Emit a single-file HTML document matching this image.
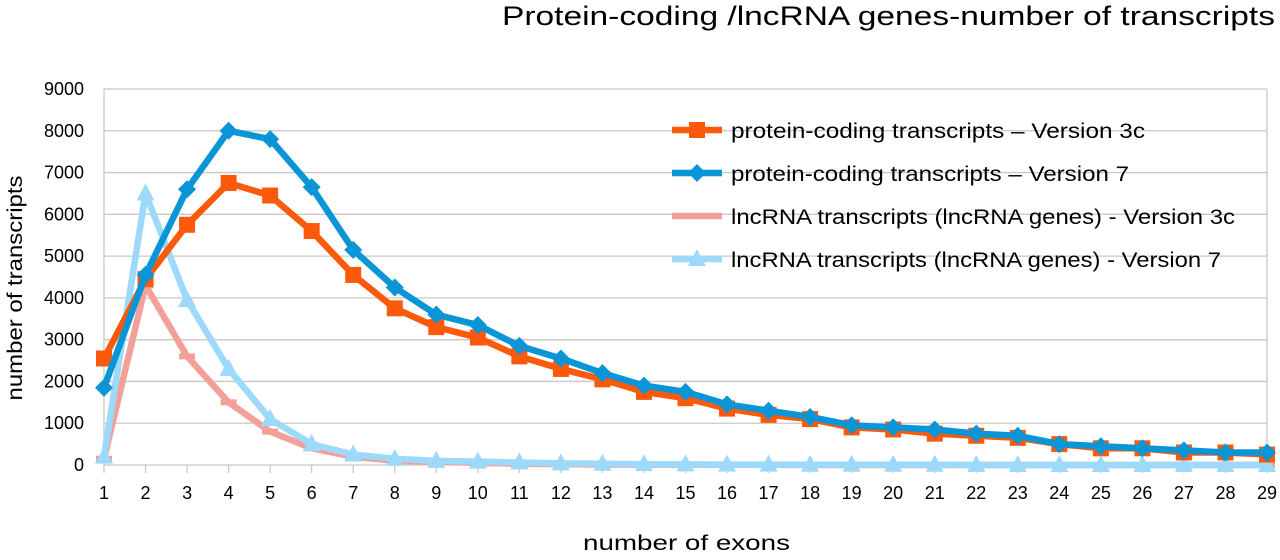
<!DOCTYPE html>
<html><head><meta charset="utf-8"><style>
body{margin:0;background:#fff;width:1280px;height:555px;overflow:hidden;font-family:"Liberation Sans",sans-serif}
text{font-family:"Liberation Sans",sans-serif;fill:#000}
</style></head><body>
<svg id="chart" width="1280" height="555" viewBox="0 0 1280 555" xmlns="http://www.w3.org/2000/svg">
<text x="502" y="25" font-size="27" textLength="773" lengthAdjust="spacingAndGlyphs">Protein-coding /lncRNA genes-number of transcripts</text>
<text transform="translate(22,288) rotate(-90)" font-size="21" text-anchor="middle" textLength="225" lengthAdjust="spacingAndGlyphs">number of transcripts</text>
<text x="583" y="550" font-size="21" textLength="207" lengthAdjust="spacingAndGlyphs">number of exons</text>
<g id="grid"></g><g id="series"></g><g id="legend"></g>
</svg>
<script>
const categories=[1,2,3,4,5,6,7,8,9,10,11,12,13,14,15,16,17,18,19,20,21,22,23,24,25,26,27,28,29];
const yTicks=[0,1000,2000,3000,4000,5000,6000,7000,8000,9000];
const pc3c=[2550,4450,5750,6750,6450,5600,4550,3750,3300,3050,2600,2300,2050,1750,1600,1350,1200,1100,900,850,750,700,650,500,400,400,300,300,250];
const pc7=[1850,4550,6600,8000,7800,6650,5150,4250,3600,3350,2850,2550,2200,1900,1750,1450,1300,1150,950,900,850,750,700,500,450,400,350,300,300];
const lnc3c=[150,4300,2600,1500,800,400,200,100,80,50,30,20,10,10,5,5,5,0,0,0,0,0,0,0,0,0,0,0,0];
const lnc7=[200,6500,3950,2300,1100,500,250,150,100,80,60,40,30,20,15,10,10,5,5,5,5,0,0,0,0,0,0,0,0];
const seriesNames=["protein-coding transcripts – Version 3c","protein-coding transcripts – Version 7","lncRNA transcripts (lncRNA genes) - Version 3c","lncRNA transcripts (lncRNA genes) - Version 7"];
const legendWidths=[414,398,504,490];
const NS="http://www.w3.org/2000/svg";
const X0=104,X1=1267,Y0=465,Y1=89;
const xs=c=>X0+(c-1)*(X1-X0)/28;
const ys=v=>Y0-(v/9000)*(Y0-Y1);
function mk(t,a,p){const e=document.createElementNS(NS,t);for(const k in a)e.setAttribute(k,a[k]);p.appendChild(e);return e;}
const grid=document.getElementById('grid');
yTicks.forEach(v=>{
 const l=mk('line',{x1:X0,x2:X1,y1:ys(v),y2:ys(v),stroke:'#c8c8c8','stroke-width':1.3},grid);
 
 
 const t=mk('text',{x:X0-20,y:ys(v)+6,'font-size':18,'text-anchor':'end'},grid);t.textContent=v;
 
 
});
mk('line',{x1:X0,x2:X0,y1:Y1,y2:Y0,stroke:'#c8c8c8','stroke-width':1.3},grid);
mk('line',{x1:X1,x2:X1,y1:Y1,y2:Y0,stroke:'#c8c8c8','stroke-width':1.3},grid);
categories.forEach(c=>{
 mk('line',{x1:xs(c),x2:xs(c),y1:Y0,y2:Y0+8,stroke:'#c8c8c8','stroke-width':1.3},grid);
 const t=mk('text',{x:xs(c),y:Y0+34,'font-size':18,'text-anchor':'middle'},grid);t.textContent=c;
 
 
});
const sg=document.getElementById('series');
function marker(type,x,y,col,g){
 if(type==='sq')return mk('rect',{x:x-8,y:y-8,width:16,height:16,fill:col},g);
 if(type==='di')return mk('polygon',{points:`${x},${y-9} ${x+9},${y} ${x},${y+9} ${x-9},${y}`,fill:col},g);
 if(type==='tri')return mk('polygon',{points:`${x},${y-10} ${x+9},${y+7} ${x-9},${y+7}`,fill:col},g);
 if(type==='dash')return mk('rect',{x:x-8,y:y-3,width:16,height:6,fill:col},g);
}
const defs=[[lnc3c,'#f4a09a','dash','lnc-v3c'],[lnc7,'#9dd9fa','tri','lnc-v7'],[pc3c,'#fa5a0a','sq','pc-v3c'],[pc7,'#0995d6','di','pc-v7']];
defs.forEach(([d,col,m,n])=>{
 const g=mk('g',{},sg);
 
 
 mk('polyline',{points:d.map((v,i)=>xs(categories[i])+','+ys(v)).join(' '),fill:'none',stroke:col,'stroke-width':6.5,'stroke-linejoin':'round'},g);
 d.forEach((v,i)=>{const p=marker(m,xs(categories[i]),ys(v),col,g);
  
  });
});
const lg=document.getElementById('legend');
const lcols=['#fa5a0a','#0995d6','#f4a09a','#9dd9fa'],lm=['sq','di','dash','tri'];
seriesNames.forEach((s,i)=>{
 const y=130+i*43;
 const g=mk('g',{},lg);
 
 
 mk('line',{x1:672,x2:722,y1:y,y2:y,stroke:lcols[i],'stroke-width':6.5},g);
 marker(lm[i],697,y,lcols[i],g);
 const t=mk('text',{x:731,y:y+8,'font-size':21,textLength:legendWidths[i],lengthAdjust:'spacingAndGlyphs'},g);t.textContent=s;
});
</script>
</body></html>
